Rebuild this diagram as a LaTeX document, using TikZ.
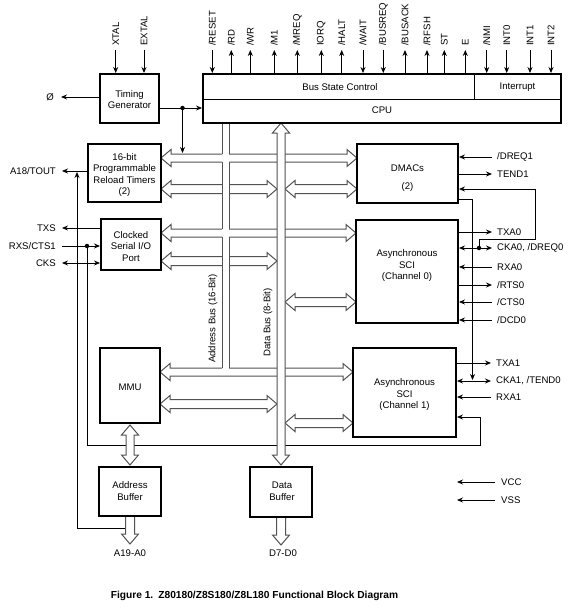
\documentclass[tikz,border=0pt]{standalone}
\usepackage{fontspec}
\setmainfont{Liberation Sans}
\usetikzlibrary{arrows.meta}
% hollow bus arrows
\newcommand\dbusH[3]{% left tip x, right tip x, y
  \pgfmathsetmacro\bxa{#1+10}\pgfmathsetmacro\bxb{#2-10}%
  \pgfmathsetmacro\bya{#3-4.5}\pgfmathsetmacro\byb{#3+4.5}%
  \pgfmathsetmacro\byc{#3-8.5}\pgfmathsetmacro\byd{#3+8.5}%
  \path[bus] (#1,#3) -- (\bxa,\byc) -- (\bxa,\bya) -- (\bxb,\bya) -- (\bxb,\byc) -- (#2,#3)
     -- (\bxb,\byd) -- (\bxb,\byb) -- (\bxa,\byb) -- (\bxa,\byd) -- cycle;}
\newcommand\dbusV[3]{% x, top tip y, bottom tip y
  \pgfmathsetmacro\bxa{#1-4}\pgfmathsetmacro\bxb{#1+4}%
  \pgfmathsetmacro\bxc{#1-8.5}\pgfmathsetmacro\bxd{#1+8.5}%
  \pgfmathsetmacro\bya{#2+10}\pgfmathsetmacro\byb{#3-10}%
  \path[bus] (#1,#2) -- (\bxd,\bya) -- (\bxb,\bya) -- (\bxb,\byb) -- (\bxd,\byb) -- (#1,#3)
     -- (\bxc,\byb) -- (\bxa,\byb) -- (\bxa,\bya) -- (\bxc,\bya) -- cycle;}
\newcommand\sbusD[3]{% x, start y, tip y
  \pgfmathsetmacro\bxa{#1-4.5}\pgfmathsetmacro\bxb{#1+4.5}%
  \pgfmathsetmacro\bxc{#1-8.5}\pgfmathsetmacro\bxd{#1+8.5}%
  \pgfmathsetmacro\byb{#3-10}%
  \path[bus] (\bxa,#2) -- (\bxa,\byb) -- (\bxc,\byb) -- (#1,#3) -- (\bxd,\byb) -- (\bxb,\byb) -- (\bxb,#2);}
\newcommand\abusL[2]{% tip x, y  (from left wall x=222)
  \pgfmathsetmacro\bxa{#1+10}%
  \pgfmathsetmacro\bya{#2-4}\pgfmathsetmacro\byb{#2+4}%
  \pgfmathsetmacro\byc{#2-8.5}\pgfmathsetmacro\byd{#2+8.5}%
  \path[bus] (222,\bya) -- (\bxa,\bya) -- (\bxa,\byc) -- (#1,#2) -- (\bxa,\byd) -- (\bxa,\byb) -- (222,\byb);}
\newcommand\abusR[2]{% tip x, y  (from right wall x=229)
  \pgfmathsetmacro\bxa{#1-10}%
  \pgfmathsetmacro\bya{#2-4}\pgfmathsetmacro\byb{#2+4}%
  \pgfmathsetmacro\byc{#2-8.5}\pgfmathsetmacro\byd{#2+8.5}%
  \path[bus] (229,\bya) -- (\bxa,\bya) -- (\bxa,\byc) -- (#1,#2) -- (\bxa,\byd) -- (\bxa,\byb) -- (229,\byb);}
\newcommand\pinin[3]{\draw[sig,sarr] (#1,50) -- (#1,73); \node[rotate=90,anchor=west] (#3) at (#1,46) {#2};}
\newcommand\pinout[3]{\draw[sig,sarr] (#1,73) -- (#1,50); \node[rotate=90,anchor=west] (#3) at (#1,46) {#2};}
\begin{document}
\begin{tikzpicture}[x=1pt,y=-1pt,
  every node/.style={font=\fontsize{9.6}{11.5}\selectfont, inner sep=0pt},
  blk/.style={draw, line width=1.8pt, fill=white},
  txt/.style={align=center},
  sig/.style={line width=0.8pt},
  sarr/.style={-{Stealth[length=6pt,width=5pt]}},
  darr/.style={{Stealth[length=6pt,width=5pt]}-{Stealth[length=6pt,width=5pt]}},
  bus/.style={draw=black!68, line width=1pt, fill=white},
  busw/.style={draw=black!68, line width=1pt},
  dotn/.style={circle, fill, inner sep=0pt, minimum size=4.5pt}]
\useasboundingbox (0,0) rectangle (585,613);

% ---------- thin signal lines (under the buses) ----------
% timing generator
\draw[sig,sarr] (115.7,50) -- (115.7,73);
\node[rotate=90,anchor=west] (xtal) at (115.7,46) {XTAL};
\draw[sig,sarr] (144,50) -- (144,73);
\node[rotate=90,anchor=west] (extal) at (144,46) {EXTAL};
\draw[sig,sarr] (100,97) -- (61,97);
\node (phi) at (50,97) {Ø};
\draw[sig,sarr] (159,108) -- (202,108);
\node[dotn] (tdot) at (182.5,108) {};
\draw[sig,sarr] (tdot.center) -- (182.5,153);

% left side
\draw[sig,sarr] (88,171) -- (62,171);
\node[anchor=east] (a18) at (56,171) {A18/TOUT};
\draw[sig,sarr] (77,528) -- (77,172);
\draw[sig] (77,528) -- (130,528);
\draw[sig,sarr] (101,228) -- (62,228);
\node[anchor=east] (txs) at (56,228) {TXS};
\draw[sig,sarr] (62,246) -- (100,246);
\node[anchor=east] (rxs) at (56,246) {RXS/CTS1};
\node[dotn] (rdot) at (87,246) {};
\draw[sig,sarr] (rdot.center) -- (87,445) -- (480,445) -- (480,417) -- (457,417);
\draw[sig,darr] (62,263) -- (100,263);
\node[anchor=east] (cks) at (56,263) {CKS};

% right side: DMACs
\draw[sig,sarr] (492,157) -- (459,157);
\node[anchor=west] (dreq1) at (497,157) {/DREQ1};
\draw[sig,sarr] (458,174) -- (492,174);
\node[anchor=west] (tend1) at (497,174) {TEND1};
\draw[sig,sarr] (479,248) -- (479,239) -- (535,239) -- (535,189) -- (459,189);
\draw[sig,sarr] (458,199) -- (472.5,199) -- (472.5,380);
% ASCI0
\draw[sig,sarr] (458,232) -- (492,232);
\node[anchor=west] (txa0) at (497,232) {TXA0};
\draw[sig,darr] (459,248) -- (492,248);
\node[dotn] (cdot) at (479,248) {};
\node[anchor=west] (cka0) at (497,248) {CKA0, /DREQ0};
\draw[sig,sarr] (492,267) -- (459,267);
\node[anchor=west] (rxa0) at (497,267) {RXA0};
\draw[sig,sarr] (458,285) -- (492,285);
\node[anchor=west] (rts0) at (497,285) {/RTS0};
\draw[sig,sarr] (492,302) -- (459,302);
\node[anchor=west] (cts0) at (497,302) {/CTS0};
\draw[sig,sarr] (492,320) -- (459,320);
\node[anchor=west] (dcd0) at (497,320) {/DCD0};
% ASCI1
\draw[sig,sarr] (456,363) -- (491,363);
\node[anchor=west] (txa1) at (496,363) {TXA1};
\draw[sig,darr] (457,381) -- (491,381);
\node[anchor=west] (cka1) at (496,381) {CKA1, /TEND0};
\draw[sig,sarr] (491,397) -- (457,397);
\node[anchor=west] (rxa1) at (496,397) {RXA1};
% power
\draw[sig,sarr] (495,482) -- (457,482);
\node[anchor=west] (vcc) at (501,482) {VCC};
\draw[sig,sarr] (495,500) -- (457,500);
\node[anchor=west] (vss) at (501,500) {VSS};

% ---------- top pins ----------
\pinin{212.3}{/RESET}{p1}
\pinout{231.3}{/RD}{p2}
\pinout{250.3}{/WR}{p3}
\pinout{274.3}{/M1}{p4}
\pinout{297.3}{/MREQ}{p5}
\pinout{321.3}{IORQ}{p6}
\pinout{341.7}{/HALT}{p7}
\pinin{363}{/WAIT}{p8}
\pinin{383.3}{/BUSREQ}{p9}
\pinout{405}{/BUSACK}{p10}
\pinout{427}{/RFSH}{p11}
\pinout{444.3}{ST}{p12}
\pinout{465.3}{E}{p13}
\pinin{486.7}{/NMI}{p14}
\pinin{506.7}{INT0}{p15}
\pinin{530}{INT1}{p16}
\pinin{551}{INT2}{p17}

% ---------- buses ----------
% data bus branches
\dbusH{161}{277}{189}
\dbusH{161}{277}{261}
\dbusH{160}{277}{404}
\dbusH{285}{357}{189}
\dbusH{285}{356}{302}
\dbusH{285}{353}{423}
% address bus channel
\fill[white] (222,123) rectangle (229,376);
\draw[busw] (222,123) -- (222,154) (222,162) -- (222,229) (222,237) -- (222,368);
\draw[busw] (229,123) -- (229,154) (229,162) -- (229,229) (229,237) -- (229,368);
\abusL{161}{158}
\abusR{357}{158}
\abusL{161}{233}
\abusR{356}{233}
\path[bus] (222,368) -- (170,368) -- (170,363.5) -- (160,372) -- (170,380.5) -- (170,376)
   -- (343,376) -- (343,380.5) -- (353,372) -- (343,363.5) -- (343,368) -- (229,368);
% data bus channel
\dbusV{281}{123}{465}
% MMU <-> address buffer, buffer outputs
\dbusV{130}{425}{465}
\sbusD{130}{516}{544}
\sbusD{281}{517}{545}

\node[rotate=90,anchor=west] (abl) at (213,363) {Address Bus (16-Bit)};
\node[rotate=90,anchor=west] (dbl) at (268,357) {Data Bus (8-Bit)};

% ---------- blocks ----------
\node[blk, minimum width=59pt, minimum height=49pt] (tg) at (129.5,98.5) {};
\node[txt] at (129.5,99.5) {Timing\\Generator};
\node[blk, minimum width=358pt, minimum height=49pt] (cpu) at (382,98.5) {};
\draw[line width=1pt] (203,99) -- (561,99) (474,74) -- (474,99);
\node (bsc) at (340,87.5) {Bus State Control};
\node (intr) at (517.5,87.5) {Interrupt};
\node (cpul) at (382,110.5) {CPU};
\node[blk, minimum width=73pt, minimum height=58pt] (tmr) at (124.5,173) {};
\node[txt] at (124.5,175) {16-bit\\Programmable\\Reload Timers\\(2)};
\node[blk, minimum width=60pt, minimum height=51pt] (csio) at (131,244.5) {};
\node[txt] at (131,246.5) {Clocked\\Serial I/O\\Port};
\node[blk, minimum width=60pt, minimum height=75pt] (mmu) at (130,385.5) {};
\node at (130,387) {MMU};
\node[blk, minimum width=62pt, minimum height=49pt] (abuf) at (130,491.5) {};
\node[txt] at (130,491) {Address\\Buffer};
\node[blk, minimum width=62pt, minimum height=50pt] (dbuf) at (281,492) {};
\node[txt] at (282,491) {Data\\Buffer};
\node[blk, minimum width=101pt, minimum height=59pt] (dmac) at (407.5,173.5) {};
\node[txt] at (407.5,178) {DMACs\\[6.5pt](2)};
\node[blk, minimum width=102pt, minimum height=103pt] (asci0) at (407,271.5) {};
\node[txt] at (407,266) {Asynchronous\\SCI\\(Channel 0)};
\node[blk, minimum width=103pt, minimum height=89pt] (asci1) at (404.5,392.5) {};
\node[txt] at (404.5,395) {Asynchronous\\SCI\\(Channel 1)};

% ---------- bottom labels & caption ----------
\node (a19) at (130,553) {A19-A0};
\node (d7) at (283,553) {D7-D0};
\node[font=\fontsize{10.2}{12}\selectfont\bfseries] (cap) at (254.5,596)
  {Figure 1.\enspace Z80180/Z8S180/Z8L180 Functional Block Diagram};
\end{tikzpicture}
\end{document}
